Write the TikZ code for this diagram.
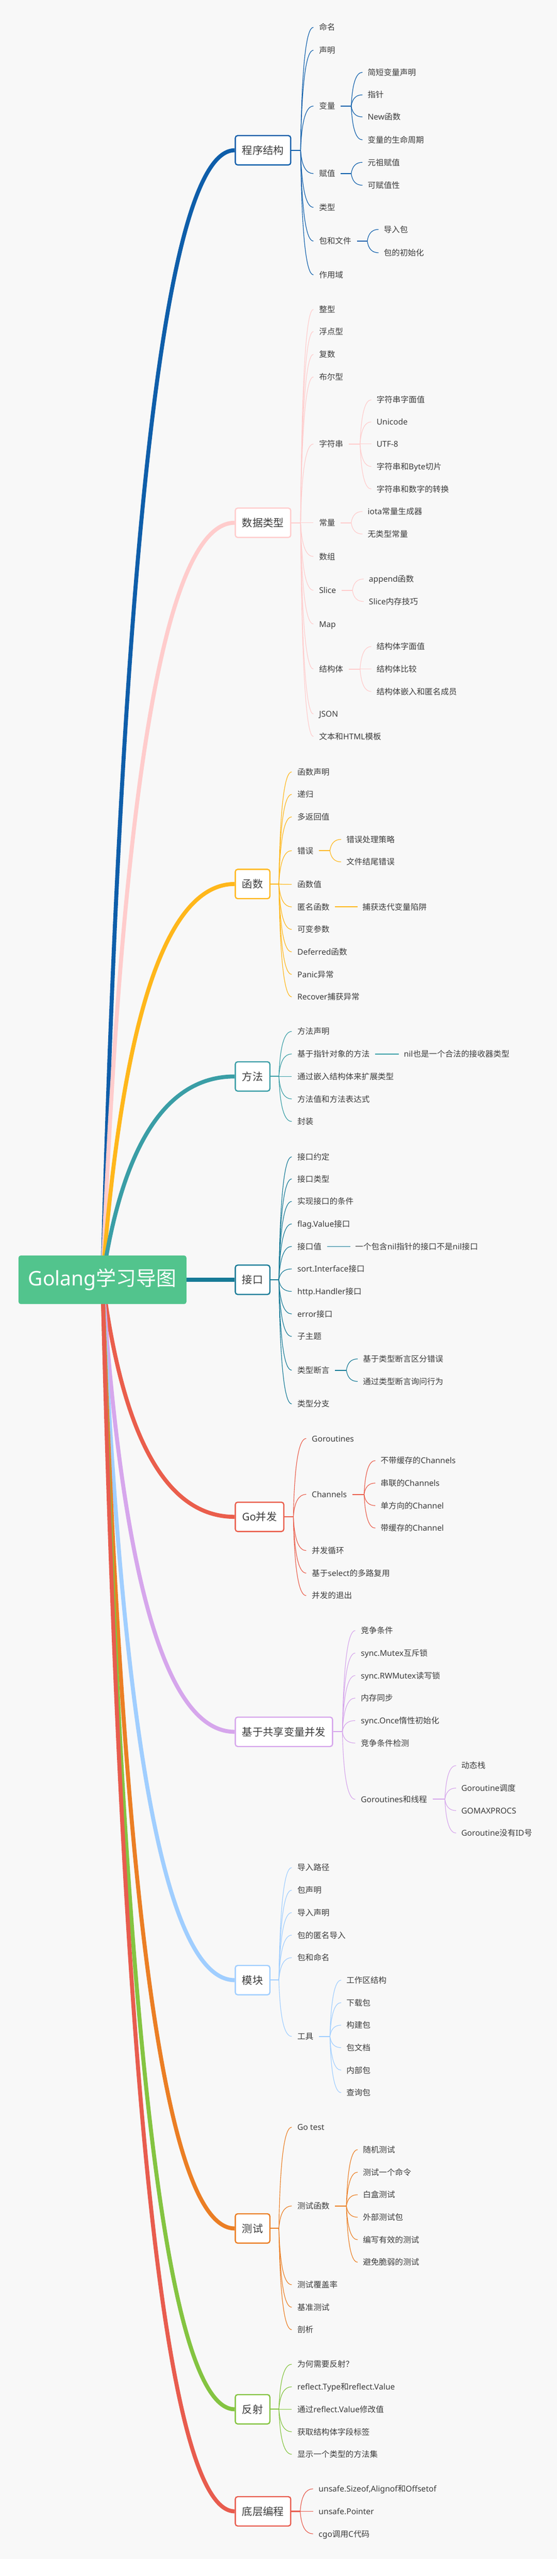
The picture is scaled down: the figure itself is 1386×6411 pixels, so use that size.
\documentclass[tikz,border=0pt]{standalone}
\usepackage{fontspec}
\setmainfont{Noto Sans CJK SC}
\newfontfamily\latfont{Noto Sans}
\newcommand\latn[1]{{\latfont #1}}
\usetikzlibrary{calc}
\pgfdeclarelayer{bg}
\pgfdeclarelayer{lines}
\pgfsetlayers{bg,lines,main}
\definecolor{bgc}{RGB}{248,248,248}
\definecolor{txt}{RGB}{60,60,60}
\definecolor{rootg}{RGB}{82,196,141}
\definecolor{c1}{RGB}{14,94,170}
\definecolor{c2}{RGB}{255,204,204}
\definecolor{c3}{RGB}{255,183,27}
\definecolor{c4}{RGB}{58,158,166}
\definecolor{c5}{RGB}{22,122,150}
\definecolor{c6}{RGB}{234,94,76}
\definecolor{c7}{RGB}{214,166,236}
\definecolor{c8}{RGB}{160,206,255}
\definecolor{c9}{RGB}{235,126,36}
\definecolor{c10}{RGB}{132,196,65}
\definecolor{c11}{RGB}{232,92,78}
\tikzset{
  lbl/.style={anchor=west, inner xsep=0pt, inner ysep=0pt, outer sep=0pt, text=txt,
    font=\fontsize{20pt}{24pt}\selectfont, text height=17.6pt, text depth=2.4pt},
  topic/.style={draw=#1, line width=3pt, fill=white, rounded corners=6pt, anchor=west,
    minimum height=73pt, inner xsep=17pt, inner ysep=0pt, text=txt,
    font=\fontsize{26pt}{31pt}\selectfont, text height=22.9pt, text depth=3.1pt},
  rootn/.style={fill=rootg, rounded corners=6pt, minimum width=418pt, minimum height=121pt,
    inner sep=0pt, text=white, font=\fontsize{50pt}{60pt}\selectfont},
  mainln/.style={line width=10pt},
  stub/.style={line width=2.6pt},
  twig/.style={line width=1.5pt},
  sline/.style={line width=2pt},
}
% main branch: root -> box
\newcommand\mbr[2]{%
  \draw[mainln,#1] let \p1=(root.center), \p2=(#2.west) in
    (\p1) .. controls ({\x1+0.667*(330pt-\x1)},{\y1+0.667*(\y2-\y1)}) and ({\x2+0.667*(330pt-\x2)},\y2) .. (\p2);}
% level 2: name, parent box, colour, x, y, text
\newcommand\lvii[6]{%
  \node[lbl] (#1) at (#4,#5) {#6};
  \begin{pgfonlayer}{lines}
  \draw[stub,#3] let \p1=(#2.east), \p2=([xshift=-14pt]#1.west) in (\p1) -- (\x2-32pt,\y1);
  \draw[twig,#3] let \p1=(#2.east), \p2=([xshift=-14pt]#1.west) in
    (\x2-32pt,\y1) .. controls (\x2-29.3pt,{\y1+0.667*(\y2-\y1)}) and (\x2-18.7pt,\y2) .. (\p2);
  \end{pgfonlayer}}
% level 3: name, parent text, colour, x, y, text
\newcommand\lviii[6]{%
  \node[lbl] (#1) at (#4,#5) {#6};
  \begin{pgfonlayer}{lines}
  \draw[stub,#3] let \p1=([xshift=14pt]#2.east), \p2=([xshift=-13pt]#1.west) in (\p1) -- (\x2-28pt,\y1);
  \draw[twig,#3] let \p1=([xshift=14pt]#2.east), \p2=([xshift=-13pt]#1.west) in
    (\x2-28pt,\y1) .. controls (\x2-25.3pt,{\y1+0.667*(\y2-\y1)}) and (\x2-16pt,\y2) .. (\p2);
  \end{pgfonlayer}}
% single child, straight line
\newcommand\lvs[6]{%
  \node[lbl] (#1) at (#4,#5) {#6};
  \begin{pgfonlayer}{lines}
  \draw[sline,#3] ([xshift=14pt]#2.east) -- ([xshift=-12pt]#1.west);
  \end{pgfonlayer}}
\begin{document}
\begin{tikzpicture}[x=1pt,y=-1pt]
\useasboundingbox (0,0) rectangle (1386,6411);
\begin{pgfonlayer}{bg}
\fill[white] (0,0) rectangle (1386,6411);
\fill[bgc] (0,0) rectangle (1386,6369);
\end{pgfonlayer}

\node[rootn] (root) at (255,3185) {\latn{Golang}学习导图};

\node[topic=c1] (b1) at (584,374) {程序结构};
\node[topic=c2] (b2) at (584,1301) {数据类型};
\node[topic=c3] (b3) at (584,2200) {函数};
\node[topic=c4] (b4) at (584,2679) {方法};
\node[topic=c5] (b5) at (584,3185) {接口};
\node[topic=c6] (b6) at (584,3775) {\latn{Go}并发};
\node[topic=c7] (b7) at (584,4310) {基于共享变量并发};
\node[topic=c8] (b8) at (584,4928) {模块};
\node[topic=c9] (b9) at (584,5546) {测试};
\node[topic=c10] (b10) at (584,5996) {反射};
\node[topic=c11] (b11) at (584,6250) {底层编程};

\begin{pgfonlayer}{lines}
\mbr{c1}{b1}\mbr{c2}{b2}\mbr{c3}{b3}\mbr{c4}{b4}\mbr{c5}{b5}\mbr{c6}{b6}
\mbr{c7}{b7}\mbr{c8}{b8}\mbr{c9}{b9}\mbr{c10}{b10}\mbr{c11}{b11}
\end{pgfonlayer}

% 程序结构
\lvii{a1}{b1}{c1}{794}{68}{命名}
\lvii{a2}{b1}{c1}{794}{125}{声明}
\lvii{a3}{b1}{c1}{794}{264}{变量}
\lvii{a4}{b1}{c1}{794}{432}{赋值}
\lvii{a5}{b1}{c1}{794}{516}{类型}
\lvii{a6}{b1}{c1}{794}{600}{包和文件}
\lvii{a7}{b1}{c1}{794}{684}{作用域}
\lviii{a31}{a3}{c1}{915}{180}{简短变量声明}
\lviii{a32}{a3}{c1}{915}{236}{指针}
\lviii{a33}{a3}{c1}{915}{291}{\latn{New}函数}
\lviii{a34}{a3}{c1}{915}{348}{变量的生命周期}
\lviii{a41}{a4}{c1}{915}{404}{元祖赋值}
\lviii{a42}{a4}{c1}{915}{461}{可赋值性}
\lviii{a61}{a6}{c1}{955}{571}{导入包}
\lviii{a62}{a6}{c1}{955}{629}{包的初始化}

% 数据类型
\lvii{d1}{b2}{c2}{794}{770}{整型}
\lvii{d2}{b2}{c2}{794}{825}{浮点型}
\lvii{d3}{b2}{c2}{794}{882}{复数}
\lvii{d4}{b2}{c2}{794}{938}{布尔型}
\lvii{d5}{b2}{c2}{794}{1105}{字符串}
\lvii{d6}{b2}{c2}{794}{1301}{常量}
\lvii{d7}{b2}{c2}{794}{1385}{数组}
\lvii{d8}{b2}{c2}{794}{1469}{\latn{Slice}}
\lvii{d9}{b2}{c2}{794}{1553}{\latn{Map}}
\lvii{d10}{b2}{c2}{794}{1665}{结构体}
\lvii{d11}{b2}{c2}{794}{1777}{\latn{JSON}}
\lvii{d12}{b2}{c2}{794}{1833}{文本和\latn{HTML}模板}
\lviii{d51}{d5}{c2}{937}{995}{字符串字面值}
\lviii{d52}{d5}{c2}{937}{1050}{\latn{Unicode}}
\lviii{d53}{d5}{c2}{937}{1105}{\latn{UTF-8}}
\lviii{d54}{d5}{c2}{937}{1161}{字符串和\latn{Byte}切片}
\lviii{d55}{d5}{c2}{937}{1217}{字符串和数字的转换}
\lviii{d61}{d6}{c2}{915}{1273}{\latn{iota}常量生成器}
\lviii{d62}{d6}{c2}{915}{1329}{无类型常量}
\lviii{d81}{d8}{c2}{918}{1441}{\latn{append}函数}
\lviii{d82}{d8}{c2}{918}{1497}{\latn{Slice}内存技巧}
\lviii{d101}{d10}{c2}{937}{1609}{结构体字面值}
\lviii{d102}{d10}{c2}{937}{1665}{结构体比较}
\lviii{d103}{d10}{c2}{937}{1721}{结构体嵌入和匿名成员}

% 函数
\lvii{f1}{b3}{c3}{740}{1921}{函数声明}
\lvii{f2}{b3}{c3}{740}{1977}{递归}
\lvii{f3}{b3}{c3}{740}{2033}{多返回值}
\lvii{f4}{b3}{c3}{740}{2117}{错误}
\lvii{f5}{b3}{c3}{740}{2201}{函数值}
\lvii{f6}{b3}{c3}{740}{2257}{匿名函数}
\lvii{f7}{b3}{c3}{740}{2313}{可变参数}
\lvii{f8}{b3}{c3}{740}{2369}{\latn{Deferred}函数}
\lvii{f9}{b3}{c3}{740}{2425}{\latn{Panic}异常}
\lvii{f10}{b3}{c3}{740}{2481}{\latn{Recover}捕获异常}
\lviii{f41}{f4}{c3}{862}{2089}{错误处理策略}
\lviii{f42}{f4}{c3}{862}{2145}{文件结尾错误}
\lvs{f61}{f6}{c3}{902}{2257}{捕获迭代变量陷阱}

% 方法
\lvii{m1}{b4}{c4}{740}{2567}{方法声明}
\lvii{m2}{b4}{c4}{740}{2623}{基于指针对象的方法}
\lvii{m3}{b4}{c4}{740}{2679}{通过嵌入结构体来扩展类型}
\lvii{m4}{b4}{c4}{740}{2735}{方法值和方法表达式}
\lvii{m5}{b4}{c4}{740}{2791}{封装}
\lvs{m21}{m2}{c4}{1005}{2623}{\latn{nil}也是一个合法的接收器类型}

% 接口
\lvii{i1}{b5}{c5}{740}{2879}{接口约定}
\lvii{i2}{b5}{c5}{740}{2934}{接口类型}
\lvii{i3}{b5}{c5}{740}{2990}{实现接口的条件}
\lvii{i4}{b5}{c5}{740}{3046}{\latn{flag.Value}接口}
\lvii{i5}{b5}{c5}{740}{3102}{接口值}
\lvii{i6}{b5}{c5}{740}{3158}{\latn{sort.Interface}接口}
\lvii{i7}{b5}{c5}{740}{3214}{\latn{http.Handler}接口}
\lvii{i8}{b5}{c5}{740}{3270}{\latn{error}接口}
\lvii{i9}{b5}{c5}{740}{3326}{子主题}
\lvii{i10}{b5}{c5}{740}{3410}{类型断言}
\lvii{i11}{b5}{c5}{740}{3494}{类型分支}
\lvs{i51}{i5}{c5}{884}{3102}{一个包含\latn{nil}指针的接口不是\latn{nil}接口}
\lviii{i101}{i10}{c5}{903}{3382}{基于类型断言区分错误}
\lviii{i102}{i10}{c5}{903}{3438}{通过类型断言询问行为}

% Go并发
\lvii{g1}{b6}{c6}{776}{3580}{\latn{Goroutines}}
\lvii{g2}{b6}{c6}{776}{3719}{\latn{Channels}}
\lvii{g3}{b6}{c6}{776}{3859}{并发循环}
\lvii{g4}{b6}{c6}{776}{3915}{基于\latn{select}的多路复用}
\lvii{g5}{b6}{c6}{776}{3971}{并发的退出}
\lviii{g21}{g2}{c6}{947}{3635}{不带缓存的\latn{Channels}}
\lviii{g22}{g2}{c6}{947}{3691}{串联的\latn{Channels}}
\lviii{g23}{g2}{c6}{947}{3747}{单方向的\latn{Channel}}
\lviii{g24}{g2}{c6}{947}{3803}{带缓存的\latn{Channel}}

% 基于共享变量并发
\lvii{s1}{b7}{c7}{898}{4058}{竞争条件}
\lvii{s2}{b7}{c7}{898}{4114}{\latn{sync.Mutex}互斥锁}
\lvii{s3}{b7}{c7}{898}{4170}{\latn{sync.RWMutex}读写锁}
\lvii{s4}{b7}{c7}{898}{4226}{内存同步}
\lvii{s5}{b7}{c7}{898}{4282}{\latn{sync.Once}惰性初始化}
\lvii{s6}{b7}{c7}{898}{4338}{竞争条件检测}
\lvii{s7}{b7}{c7}{898}{4478}{\latn{Goroutines}和线程}
\lviii{s71}{s7}{c7}{1148}{4394}{动态栈}
\lviii{s72}{s7}{c7}{1148}{4450}{\latn{Goroutine}调度}
\lviii{s73}{s7}{c7}{1148}{4506}{\latn{GOMAXPROCS}}
\lviii{s74}{s7}{c7}{1148}{4562}{\latn{Goroutine}没有\latn{ID}号}

% 模块
\lvii{k1}{b8}{c8}{740}{4648}{导入路径}
\lvii{k2}{b8}{c8}{740}{4704}{包声明}
\lvii{k3}{b8}{c8}{740}{4760}{导入声明}
\lvii{k4}{b8}{c8}{740}{4816}{包的匿名导入}
\lvii{k5}{b8}{c8}{740}{4872}{包和命名}
\lvii{k6}{b8}{c8}{740}{5068}{工具}
\lviii{k61}{k6}{c8}{862}{4928}{工作区结构}
\lviii{k62}{k6}{c8}{862}{4984}{下载包}
\lviii{k63}{k6}{c8}{862}{5040}{构建包}
\lviii{k64}{k6}{c8}{862}{5096}{包文档}
\lviii{k65}{k6}{c8}{862}{5152}{内部包}
\lviii{k66}{k6}{c8}{862}{5208}{查询包}

% 测试
\lvii{t1}{b9}{c9}{740}{5294}{\latn{Go test}}
\lvii{t2}{b9}{c9}{740}{5490}{测试函数}
\lvii{t3}{b9}{c9}{740}{5686}{测试覆盖率}
\lvii{t4}{b9}{c9}{740}{5742}{基准测试}
\lvii{t5}{b9}{c9}{740}{5798}{剖析}
\lviii{t21}{t2}{c9}{903}{5350}{随机测试}
\lviii{t22}{t2}{c9}{903}{5406}{测试一个命令}
\lviii{t23}{t2}{c9}{903}{5462}{白盒测试}
\lviii{t24}{t2}{c9}{903}{5518}{外部测试包}
\lviii{t25}{t2}{c9}{903}{5574}{编写有效的测试}
\lviii{t26}{t2}{c9}{903}{5630}{避免脆弱的测试}

% 反射
\lvii{r1}{b10}{c10}{740}{5884}{为何需要反射？}
\lvii{r2}{b10}{c10}{740}{5940}{\latn{reflect.Type}和\latn{reflect.Value}}
\lvii{r3}{b10}{c10}{740}{5996}{通过\latn{reflect.Value}修改值}
\lvii{r4}{b10}{c10}{740}{6052}{获取结构体字段标签}
\lvii{r5}{b10}{c10}{740}{6108}{显示一个类型的方法集}

% 底层编程
\lvii{u1}{b11}{c11}{793}{6194}{\latn{unsafe.Sizeof,Alignof}和\latn{Offsetof}}
\lvii{u2}{b11}{c11}{793}{6250}{\latn{unsafe.Pointer}}
\lvii{u3}{b11}{c11}{793}{6306}{\latn{cgo}调用\latn{C}代码}
\end{tikzpicture}
\end{document}
